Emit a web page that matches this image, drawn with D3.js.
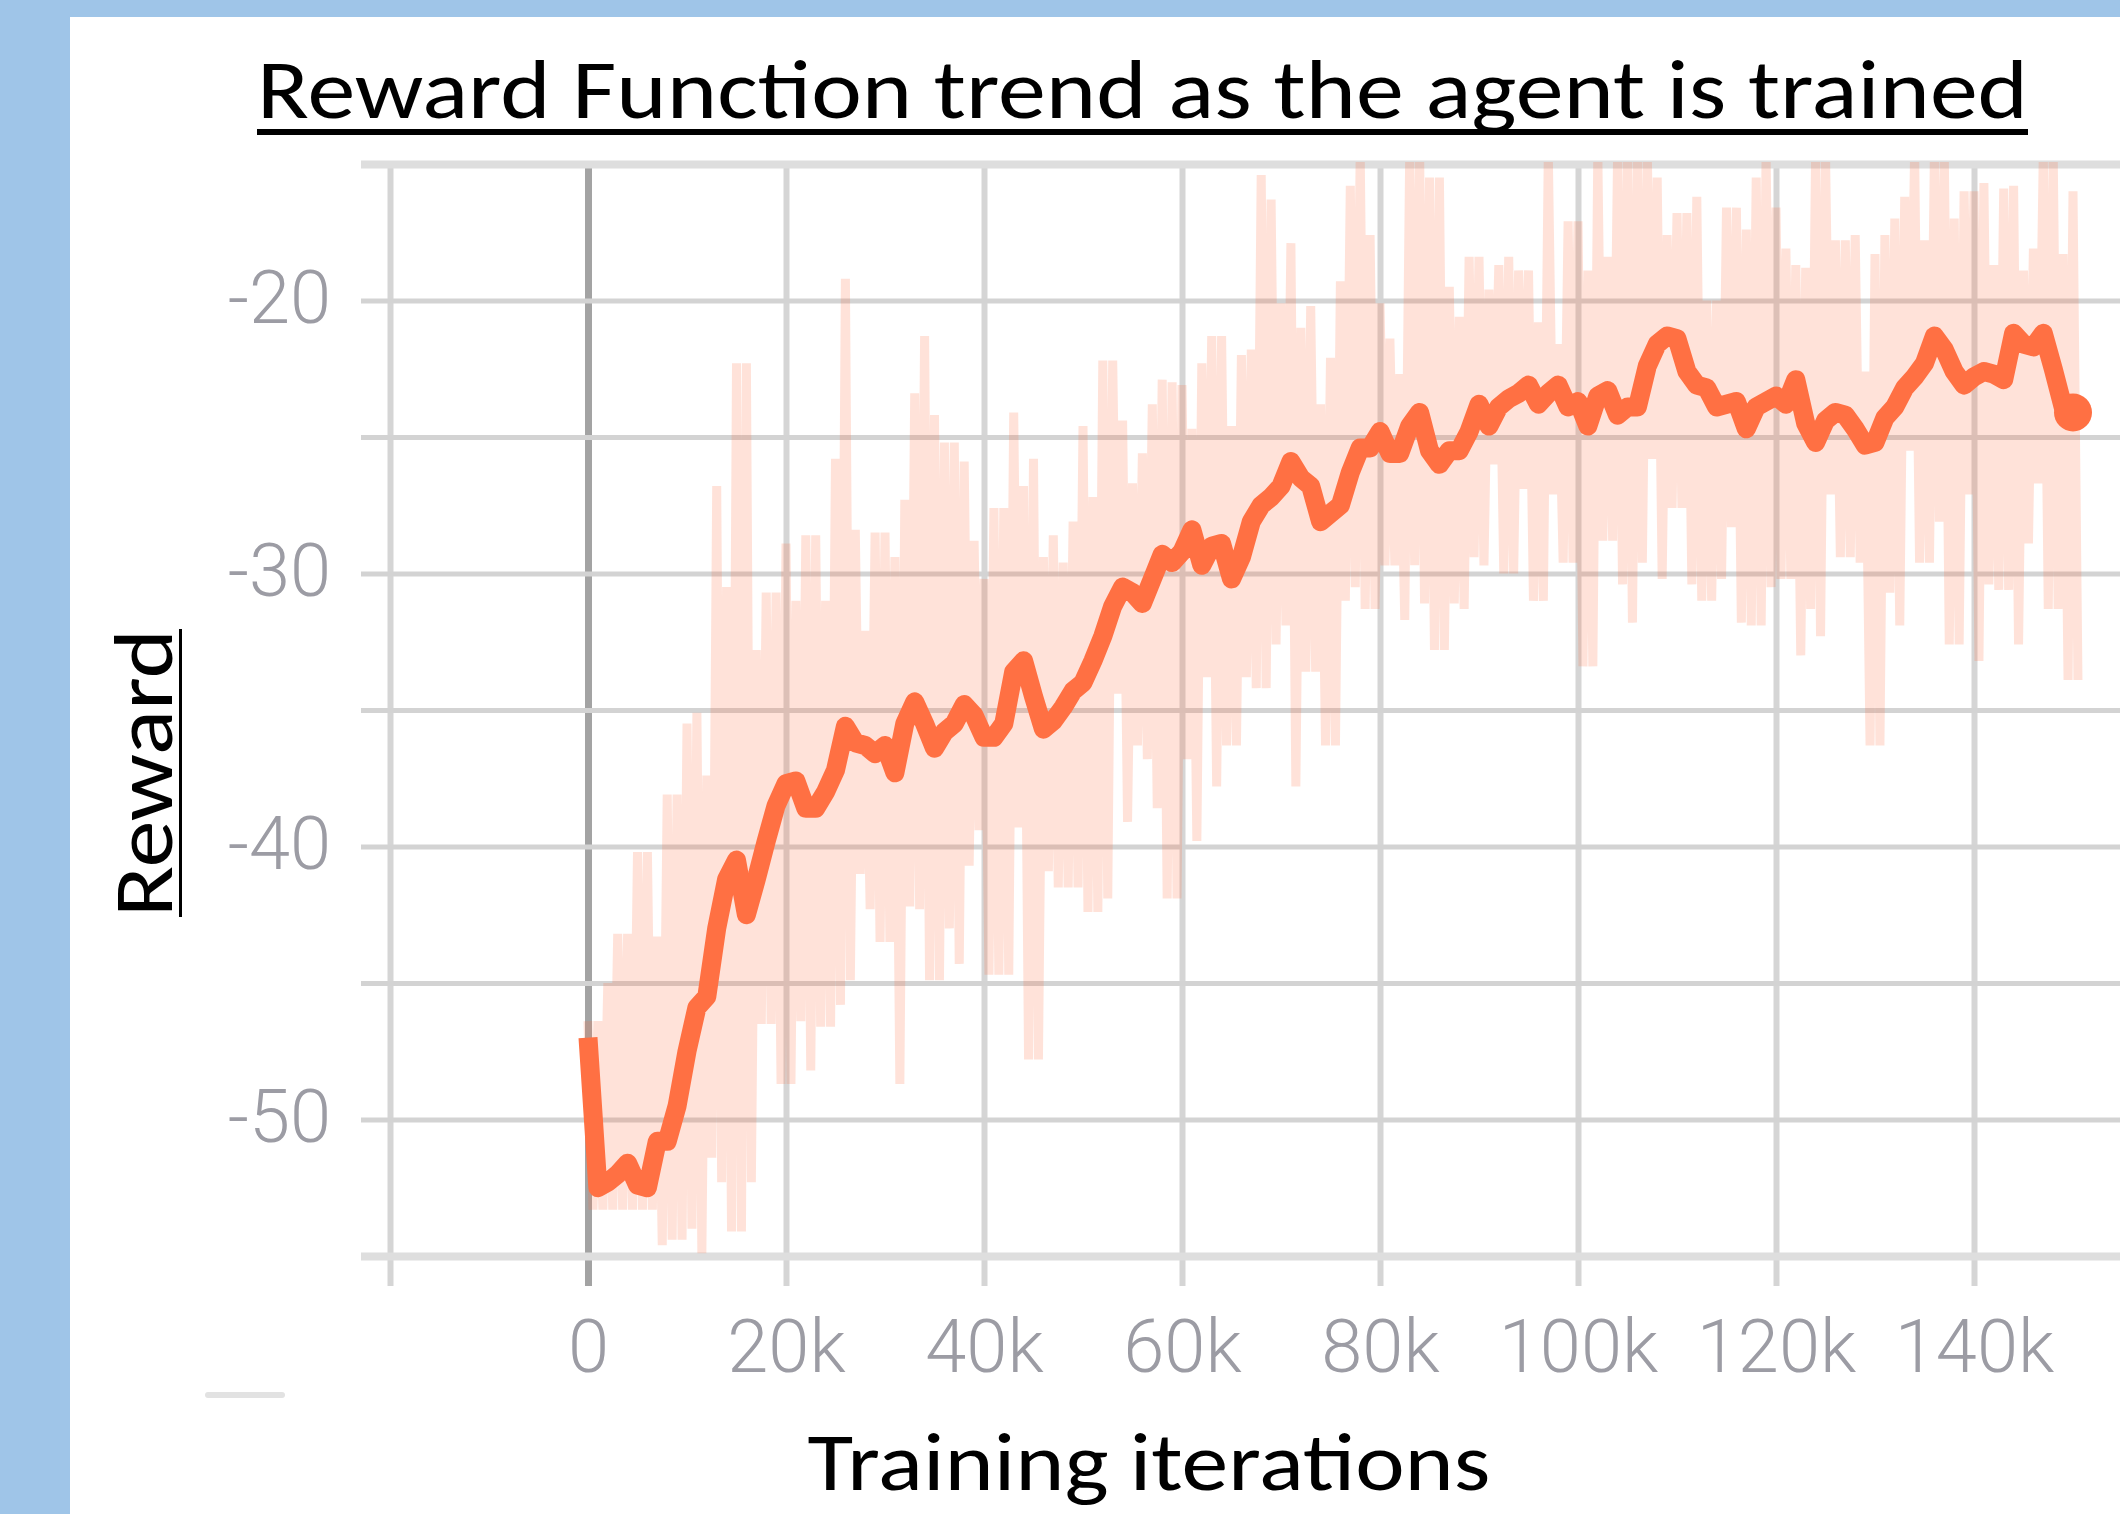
<!DOCTYPE html>
<html>
<head>
<meta charset="utf-8">
<script src="https://cdn.jsdelivr.net/npm/d3@7"></script>
<style>
  html, body { margin: 0; padding: 0; background: #fff; }
  svg { display: block; }
</style>
</head>
<body>
<svg id="chart" width="2120" height="1514"></svg>
<script>
// ── Data (reward per training step, 1k-step bins) ──
const stepSize = 1000;

// smoothed reward, one value per 1k steps (0 .. 150k)
const smoothed = [
  -47.0, -52.5, -52.3, -52.0, -51.6, -52.4, -52.5, -50.8, -50.8, -49.5,
  -47.5, -45.9, -45.5, -43.0, -41.2, -40.5, -42.5, -41.2, -39.8, -38.5,
  -37.7, -37.6, -38.6, -38.6, -38.0, -37.2, -35.6, -36.2, -36.3, -36.6,
  -36.3, -37.3, -35.5, -34.7, -35.5, -36.4, -35.8, -35.5, -34.8, -35.2,
  -36.0, -36.0, -35.5, -33.6, -33.2, -34.5, -35.7, -35.4, -34.9, -34.3,
  -34.0, -33.2, -32.3, -31.2, -30.5, -30.7, -31.1, -30.2, -29.3, -29.6,
  -29.2, -28.4, -29.7, -29.0, -28.9, -30.2, -29.4, -28.1, -27.5, -27.2,
  -26.8, -25.9, -26.5, -26.8, -28.1, -27.8, -27.5, -26.3, -25.4, -25.4,
  -24.8, -25.6, -25.6, -24.6, -24.1, -25.5, -26.0, -25.5, -25.5, -24.8,
  -23.8, -24.6, -23.9, -23.6, -23.4, -23.1, -23.8, -23.4, -23.1, -23.9,
  -23.7, -24.6, -23.5, -23.3, -24.2, -23.9, -23.9, -22.4, -21.6, -21.3,
  -21.4, -22.6, -23.1, -23.2, -23.9, -23.8, -23.7, -24.7, -23.9, -23.7,
  -23.5, -23.8, -22.9, -24.5, -25.2, -24.4, -24.1, -24.2, -24.7, -25.3,
  -25.2, -24.3, -23.9, -23.2, -22.8, -22.3, -21.3, -21.8, -22.6, -23.1,
  -22.8, -22.6, -22.7, -22.9, -21.2, -21.6, -21.7, -21.2, -22.5, -23.9,
  -24.1
];

// raw reward: highest value inside each 1k bin
const rawMax = [
  -46.4, -46.4, -45.0, -43.2, -43.2, -40.2, -40.2, -43.3, -38.1, -38.1,
  -35.5, -35.1, -37.4, -26.8, -30.5, -22.3, -22.3, -32.8, -30.7, -30.7,
  -28.9, -31.0, -28.6, -28.6, -31.0, -25.8, -19.2, -28.4, -32.1, -28.5,
  -28.5, -29.4, -27.3, -23.4, -21.3, -24.2, -25.2, -25.2, -25.9, -28.8,
  -30.2, -27.6, -27.6, -24.1, -26.8, -25.8, -29.4, -28.6, -29.6, -28.1,
  -24.6, -27.2, -22.2, -22.2, -24.4, -26.7, -25.6, -23.8, -22.9, -23.0,
  -23.1, -24.7, -22.3, -21.3, -21.3, -24.6, -22.0, -21.8, -15.4, -16.3,
  -20.1, -17.9, -21.0, -20.2, -23.8, -22.1, -19.3, -15.8, -14.6, -17.6,
  -20.1, -21.4, -22.7, -14.6, -14.6, -15.5, -15.5, -19.5, -20.6, -18.4,
  -18.4, -19.6, -18.7, -18.4, -18.9, -18.9, -20.8, -14.6, -21.6, -17.1,
  -17.1, -18.9, -14.6, -18.4, -14.6, -14.6, -14.6, -14.6, -15.5, -17.6,
  -16.8, -16.8, -16.2, -20.0, -20.0, -16.6, -16.6, -17.4, -15.5, -14.6,
  -16.6, -18.1, -18.7, -18.8, -14.6, -14.6, -17.8, -17.8, -17.6, -22.6,
  -18.3, -17.6, -17.0, -16.2, -14.6, -17.8, -14.6, -14.6, -17.0, -16.0,
  -16.0, -15.7, -18.7, -15.9, -15.8, -18.9, -18.1, -14.6, -14.6, -18.3,
  -16.0
];

// raw reward: lowest value inside each 1k bin
const rawMin = [
  -53.3, -53.3, -53.3, -53.3, -53.3, -53.3, -53.3, -54.6, -54.4, -54.4,
  -54.0, -54.9, -51.4, -52.3, -54.1, -54.1, -52.3, -46.5, -46.5, -48.7,
  -48.7, -46.4, -48.2, -46.6, -46.6, -45.8, -44.9, -41.0, -42.3, -43.5,
  -43.5, -48.7, -42.2, -42.3, -44.9, -44.9, -43.0, -44.3, -40.7, -39.4,
  -44.7, -44.7, -44.7, -39.3, -47.8, -47.8, -40.9, -41.5, -41.5, -41.5,
  -42.4, -42.4, -41.9, -34.4, -39.1, -36.3, -36.8, -38.6, -41.9, -41.9,
  -36.8, -39.8, -33.8, -37.8, -36.3, -36.3, -33.8, -34.2, -34.2, -32.6,
  -31.9, -37.8, -33.6, -33.6, -36.3, -36.3, -31.0, -30.5, -31.3, -31.3,
  -29.7, -29.7, -31.7, -29.7, -31.1, -32.8, -32.8, -31.1, -31.3, -29.4,
  -29.7, -26.0, -30.0, -30.0, -26.9, -31.0, -31.0, -27.1, -29.6, -29.6,
  -33.4, -33.4, -28.8, -28.8, -30.4, -31.8, -29.6, -25.8, -30.2, -27.6,
  -27.6, -30.4, -31.0, -31.0, -30.2, -28.3, -31.8, -31.9, -31.9, -30.5,
  -30.2, -30.2, -33.0, -31.3, -32.3, -27.1, -29.4, -29.4, -29.6, -36.3,
  -36.3, -30.7, -31.9, -25.5, -29.6, -29.6, -28.1, -32.6, -32.6, -27.1,
  -33.2, -30.4, -30.6, -30.6, -32.6, -28.9, -26.7, -31.3, -31.3, -33.9,
  -33.9
];

const xGridTicks = [-20000, 0, 20000, 40000, 60000, 80000, 100000, 120000, 140000];
const xTickLabels = [0, 20000, 40000, 60000, 80000, 100000, 120000, 140000];
const yGridTicks = [-55, -50, -45, -40, -35, -30, -25, -20, -15];
const yTickLabels = [-50, -40, -30, -20];

const titleText = 'Reward Function trend as the agent is trained';
const xTitleText = 'Training iterations';
const yTitleText = 'Reward';

// ── Layout ──
const W = 2120, H = 1514;
const plot = { left: 361, right: 2120, top: 164, bottom: 1256 };
const orange = '#ff7043';
const labelFont = 'Roboto, "Liberation Sans", sans-serif';
const titleFont = 'Carlito, Calibri, Lato, "Open Sans", sans-serif';

const svg = d3.select('#chart');

const x = d3.scaleLinear().domain([0, 150000]).range([588, 2073]);
const y = d3.scaleLinear().domain([-55, -15]).range([plot.bottom, plot.top]);

// background frame (blue strips on top and left)
svg.append('rect').attr('x', 0).attr('y', 0).attr('width', W).attr('height', H).attr('fill', '#fff');
svg.append('rect').attr('x', 0).attr('y', 0).attr('width', W).attr('height', 17).attr('fill', '#9fc5e8');
svg.append('rect').attr('x', 0).attr('y', 0).attr('width', 70).attr('height', H).attr('fill', '#9fc5e8');

// ── Grid ──
const grid = svg.append('g');

grid.append('g')
  .attr('transform', 'translate(0,' + plot.top + ')')
  .call(d3.axisBottom(x).tickValues(xGridTicks).tickSize(1286 - plot.top).tickFormat(''))
  .call(g => g.select('.domain').remove())
  .call(g => g.selectAll('line')
    .attr('stroke', d => d === 0 ? '#a3a3a3' : '#d5d5d5')
    .attr('stroke-width', d => d === 0 ? 7 : 6));

grid.append('g')
  .attr('transform', 'translate(' + plot.right + ',0)')
  .call(d3.axisLeft(y).tickValues(yGridTicks).tickSize(plot.right - plot.left).tickFormat(''))
  .call(g => g.select('.domain').remove())
  .call(g => g.selectAll('line')
    .attr('stroke', d => (d === -55 || d === -15) ? '#dedede' : '#d3d3d3')
    .attr('stroke-width', d => (d === -55 || d === -15) ? 8 : 5));

// ── Tick labels ──
svg.append('g')
  .attr('transform', 'translate(0,1372)')
  .call(d3.axisBottom(x).tickValues(xTickLabels).tickSize(0)
    .tickFormat(d => d === 0 ? '0' : (d / 1000) + 'k'))
  .call(g => g.select('.domain').remove())
  .call(g => g.selectAll('text')
    .attr('y', 0).attr('dy', 0)
    .attr('fill', '#9c9ca4')
    .attr('font-family', labelFont).attr('font-weight', 300)
    .attr('font-size', '74px'));

svg.append('g')
  .attr('transform', 'translate(331,0)')
  .call(d3.axisLeft(y).tickValues(yTickLabels).tickSize(0).tickPadding(0)
    .tickFormat(d => d3.format('d')(d).replace('\u2212', '-')))
  .call(g => g.select('.domain').remove())
  .call(g => g.selectAll('text')
    .attr('x', 0).attr('dy', '22px')
    .attr('fill', '#9c9ca4')
    .attr('font-family', labelFont).attr('font-weight', 300)
    .attr('font-size', '74px'));

// ── Series ──
svg.append('clipPath').attr('id', 'plot-clip')
  .append('rect')
  .attr('x', plot.left).attr('y', plot.top - 2)
  .attr('width', plot.right - plot.left).attr('height', plot.bottom - plot.top + 4);

// raw: zig-zag through bin max and bin min
const rawPoints = [];
rawMax.forEach((v, i) => {
  rawPoints.push([i * stepSize, v]);
  rawPoints.push([i * stepSize + stepSize / 2, rawMin[i]]);
});

const line = d3.line().x(d => x(d[0])).y(d => y(d[1]));

svg.append('path')
  .datum(rawPoints)
  .attr('clip-path', 'url(#plot-clip)')
  .attr('d', line)
  .attr('fill', 'none')
  .attr('stroke', orange).attr('stroke-opacity', 0.2)
  .attr('stroke-width', 9).attr('stroke-linejoin', 'bevel');

const smoothPoints = smoothed.map((v, i) => [i * stepSize, v]);

svg.append('path')
  .datum(smoothPoints)
  .attr('d', line)
  .attr('fill', 'none')
  .attr('stroke', orange)
  .attr('stroke-width', 19).attr('stroke-linejoin', 'round');

// end-point marker
const last = smoothPoints[smoothPoints.length - 1];
svg.append('circle')
  .attr('cx', x(last[0])).attr('cy', y(last[1])).attr('r', 19)
  .attr('fill', orange);

// faint leftover mark under the y labels
svg.append('rect')
  .attr('x', 205).attr('y', 1392).attr('width', 80).attr('height', 6).attr('rx', 3)
  .attr('fill', '#e2e2e2');

// ── Titles ──
const title = svg.append('text')
  .attr('x', 257).attr('y', 118)
  .attr('font-family', titleFont).attr('font-size', '84px').attr('fill', '#000')
  .attr('textLength', 1771).attr('lengthAdjust', 'spacingAndGlyphs')
  .text(titleText);
const tb = title.node().getBBox();
svg.append('rect')
  .attr('x', tb.x).attr('y', 129).attr('width', tb.width).attr('height', 6)
  .attr('fill', '#000');

svg.append('text')
  .attr('x', 1149).attr('y', 1490)
  .attr('text-anchor', 'middle')
  .attr('font-family', titleFont).attr('font-size', '82px').attr('fill', '#000')
  .attr('textLength', 683).attr('lengthAdjust', 'spacingAndGlyphs')
  .text(xTitleText);

svg.append('text')
  .attr('transform', 'translate(172,773) rotate(-90)')
  .attr('text-anchor', 'middle')
  .attr('font-family', titleFont).attr('font-size', '84px').attr('fill', '#000')
  .attr('textLength', 288).attr('lengthAdjust', 'spacingAndGlyphs')
  .text(yTitleText);
svg.append('rect')
  .attr('x', 179).attr('y', 629).attr('width', 3).attr('height', 288)
  .attr('fill', '#000');
</script>
</body>
</html>
